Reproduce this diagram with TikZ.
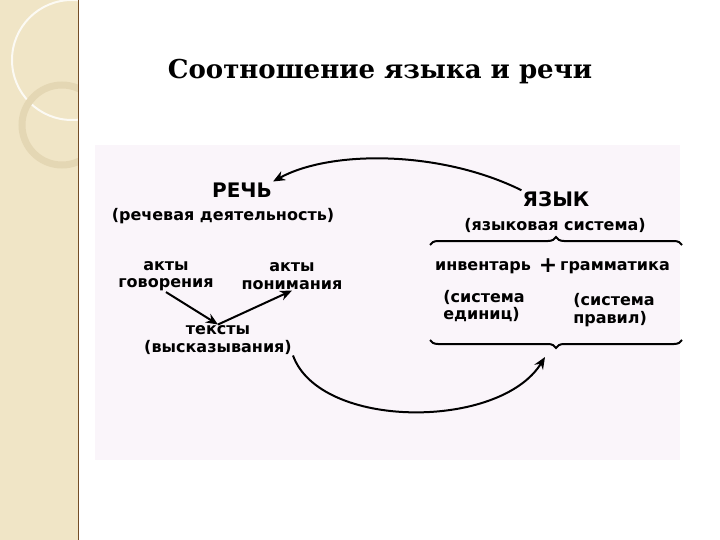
\documentclass[tikz,border=0pt]{standalone}
\usepackage{fontspec}
\setmainfont{DejaVu Sans}
\newfontfamily\titlefont{DejaVu Serif}
\usetikzlibrary{arrows.meta,decorations.pathreplacing}
\definecolor{band}{RGB}{240,229,198}
\definecolor{ring}{RGB}{228,215,180}
\begin{document}
\begin{tikzpicture}[x=1pt,y=-1pt,
  lbl/.style={font=\bfseries\fontsize{16}{17.5}\selectfont, align=center, inner sep=1pt},
  big/.style={font=\bfseries\fontsize{20}{22}\selectfont, inner sep=1pt},
  arr/.style={line width=2pt,-{Stealth[length=12pt,width=10pt]}}]
\useasboundingbox (0,0) rectangle (720,540);
\fill[white] (0,0) rectangle (720,540);
\fill[band] (0,0) rectangle (78,540);
\begin{scope}
\clip (0,0) rectangle (78,540);
\draw[white!80!band,line width=2pt] (72,60) circle (60);
\draw[ring,line width=7pt] (62,125) circle (40);
\end{scope}
\draw[brown!60!black,line width=0.8pt] (78,0) -- (78,540);
\fill[violet!4] (95,145) rectangle (680,460);
\node[font=\titlefont\bfseries\fontsize{26}{29}\selectfont] (title) at (380,72) {Соотношение языка и речи};
\node[big] (rech) at (242,190) {РЕЧЬ};
\node[lbl] (rechd) at (223,216) {(речевая деятельность)};
\node[big] (yaz) at (556,199) {ЯЗЫК};
\node[lbl] (yazd) at (555,225) {(языковая система)};
\node[lbl] (gov) at (166,276) {акты\\говорения};
\node[lbl] (pon) at (292,276) {акты\\понимания};
\node[lbl] (tex) at (218,340) {тексты\\(высказывания)};
\node[lbl] (inv) at (483,268) {инвентарь};
\node[lbl,font=\bfseries\fontsize{22}{22}\selectfont] (plus) at (548,266) {+};
\node[lbl] (gram) at (615,268) {грамматика};
\node[lbl,align=left] (sys1) at (484,306) {(система\\единиц)};
\node[lbl,align=left] (sys2) at (614,310) {(система\\правил)};
\coordinate (b1) at (430,245); \coordinate (b2) at (682,245);
\coordinate (b3) at (430,340); \coordinate (b4) at (682,340);
\draw[line width=2pt,decorate,decoration={brace,amplitude=8pt}] (b1) -- (b2);
\draw[line width=2pt,decorate,decoration={brace,amplitude=8pt}] (b4) -- (b3);
\draw[arr] (yaz.north west) .. controls (440,150) and (330,150) .. (rech.north east);
\draw[arr] (tex.south east) .. controls (320,430) and (500,430) .. (545,357);
\draw[arr] (gov.south) -- (tex.north);
\draw[arr] (tex.north) -- (pon.south);
\end{tikzpicture}
\end{document}
